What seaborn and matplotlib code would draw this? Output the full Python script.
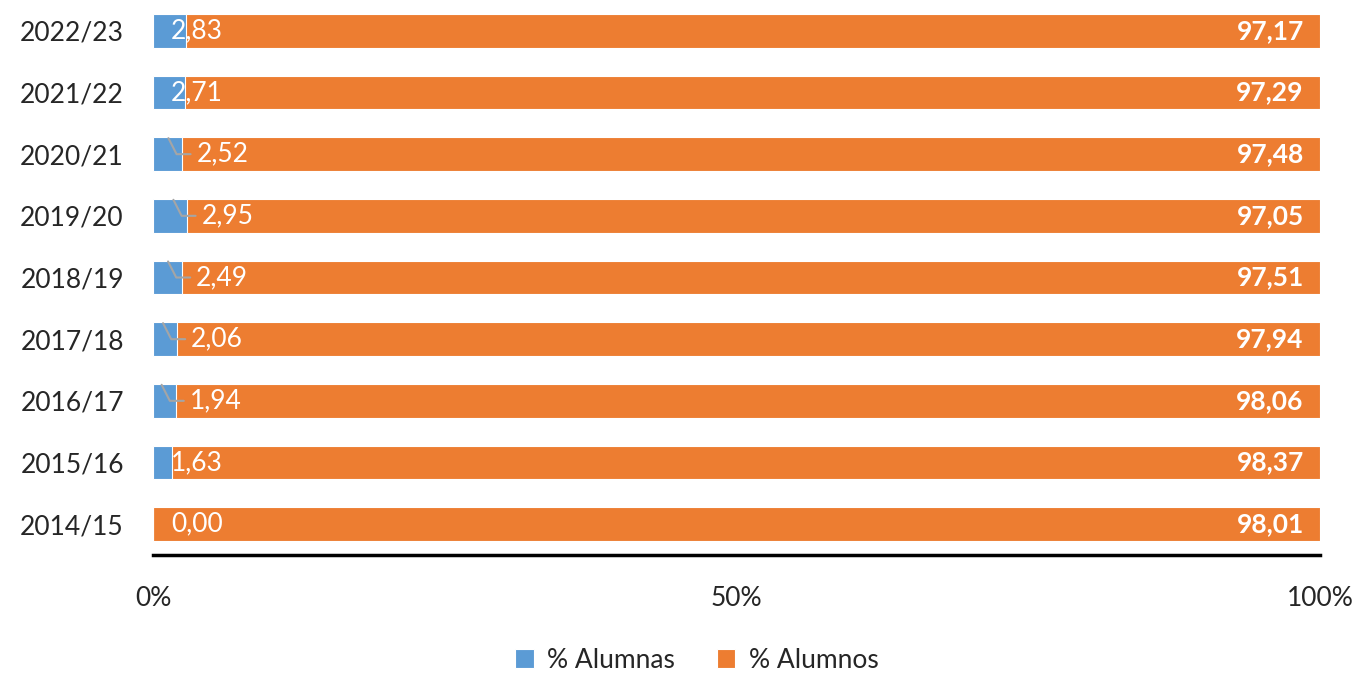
import matplotlib.pyplot as plt
import seaborn as sns
import pandas as pd

# Datos (de arriba abajo)
cursos = ["2022/23", "2021/22", "2020/21", "2019/20", "2018/19",
          "2017/18", "2016/17", "2015/16", "2014/15"]
alumnas = [2.83, 2.71, 2.52, 2.95, 2.49, 2.06, 1.94, 1.63, 0.00]
alumnos = [97.17, 97.29, 97.48, 97.05, 97.51, 97.94, 98.06, 98.37, 98.01]
con_guia = ["2020/21", "2019/20", "2018/19", "2017/18", "2016/17"]

azul = "#5B9BD5"
naranja = "#ED7D31"

df = pd.DataFrame({"curso": cursos, "alumnas": alumnas, "alumnos": alumnos})
df["total"] = df["alumnas"] + df["alumnos"]
df["pct_alumnas"] = df["alumnas"] / df["total"] * 100
df["pct_total"] = 100.0

sns.set_style("white")
plt.rcParams["font.family"] = ["Lato", "DejaVu Sans"]

fig = plt.figure(figsize=(13.58, 6.74), dpi=100)
ax = fig.add_axes([153 / 1358, 1 - 555 / 674, 1167 / 1358, 555 / 674])

sns.barplot(data=df, y="curso", x="pct_total", orient="h", color=naranja,
            saturation=1, width=0.55, edgecolor="white", linewidth=0.8, ax=ax,
            label="% Alumnos")
sns.barplot(data=df, y="curso", x="pct_alumnas", orient="h", color=azul,
            saturation=1, width=0.55, edgecolor="white", linewidth=0.8, ax=ax,
            label="% Alumnas")

for i, row in df.iterrows():
    txt_a = f"{row['alumnas']:.2f}".replace(".", ",")
    txt_o = f"{row['alumnos']:.2f}".replace(".", ",")
    if row["curso"] in con_guia:
        xa = row["pct_alumnas"] + 1.2
        ax.plot([row["pct_alumnas"] - 1.2, row["pct_alumnas"] - 0.5,
                 row["pct_alumnas"] + 0.7],
                [i - 0.26, i, i], color="#A5A5A5", lw=1.5, zorder=5)
    else:
        xa = 1.55
    ax.text(xa, i, txt_a, color="white", fontsize=19, va="center", ha="left")
    ax.text(98.6, i, txt_o, color="white", fontsize=19, fontweight="bold",
            va="center", ha="right")

ax.set_xlim(0, 100)
ax.set_ylim(len(cursos) - 0.5, -0.5)
ax.set_xticks([0, 50, 100])
ax.set_xticklabels(["0%", "50%", "100%"], fontsize=19)
ax.tick_params(axis="y", labelsize=19, length=0, pad=21)
ax.tick_params(axis="x", length=0, pad=22)
ax.set_xlabel("")
ax.set_ylabel("")
for s in ["top", "right", "left"]:
    ax.spines[s].set_visible(False)
ax.spines["bottom"].set_linewidth(2.5)
ax.spines["bottom"].set_color("black")

handles, labels = ax.get_legend_handles_labels()
orden = [labels.index("% Alumnas"), labels.index("% Alumnos")]
ax.legend([handles[k] for k in orden], [labels[k] for k in orden],
          loc="center", bbox_to_anchor=(0.466, -0.19), ncol=2, frameon=False,
          fontsize=19, handlelength=0.7, handleheight=0.7, columnspacing=1.6,
          handletextpad=0.5)

fig.savefig("out.png", dpi=100)
